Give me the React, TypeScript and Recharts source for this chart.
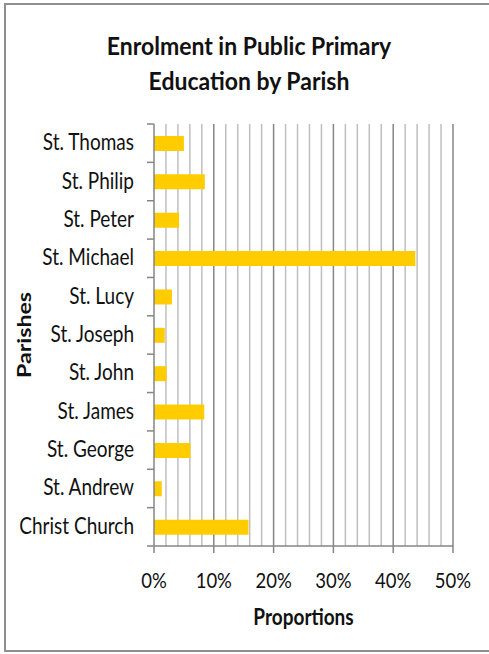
import React from "react";
import { BarChart, Bar, XAxis, YAxis, CartesianGrid } from "recharts";

const parishes = [
  "St. Thomas",
  "St. Philip",
  "St. Peter",
  "St. Michael",
  "St. Lucy",
  "St. Joseph",
  "St. John",
  "St. James",
  "St. George",
  "St. Andrew",
  "Christ Church",
];
const proportions = [5.0, 8.5, 4.2, 43.7, 3.0, 1.8, 2.1, 8.4, 6.1, 1.3, 15.8];
const xTicks = [0, 10, 20, 30, 40, 50];
const minorGrid = [2, 4, 6, 8, 12, 14, 16, 18, 22, 24, 26, 28, 32, 34, 36, 38, 42, 44, 46, 48];
const majorGrid = [10, 20, 30, 40, 50];
const titleLines = ["Enrolment in Public Primary", "Education by Parish"];

const W = 489;
const H = 654;
const PLOT_LEFT = 154;
const PLOT_RIGHT = 453;
const PLOT_TOP = 124;
const PLOT_BOTTOM = 546;
const BAND = (PLOT_BOTTOM - PLOT_TOP) / parishes.length;
const FONT = "Lato, 'Noto Sans', sans-serif";
const STRETCH = 1.18;

const chartData = parishes.map((p, i) => ({ parish: p, value: proportions[i] }));

function YTick({ x, y, payload, index }: any) {
  const last = index === parishes.length - 1;
  return (
    <g>
      <line x1={PLOT_LEFT - 7} x2={PLOT_LEFT} y1={y - BAND / 2} y2={y - BAND / 2} stroke="#868686" strokeWidth={1.5} />
      {last && (
        <line x1={PLOT_LEFT - 7} x2={PLOT_LEFT} y1={y + BAND / 2} y2={y + BAND / 2} stroke="#868686" strokeWidth={1.5} />
      )}
      <text
        transform={`translate(${x},${y + 7}) scale(1,${STRETCH})`}
        textAnchor="end"
        fontFamily={FONT}
        fontSize={19}
        fill="#111"
      >
        {payload.value}
      </text>
    </g>
  );
}

function XTick({ x, payload }: any) {
  return (
    <text
      transform={`translate(${x},588) scale(1,${STRETCH})`}
      textAnchor="middle"
      fontFamily={FONT}
      fontSize={18.5}
      fill="#111"
    >
      {payload.value}%
    </text>
  );
}

export default function App() {
  return (
    <div style={{ position: "absolute", left: 0, top: 0, width: W, height: H, background: "#fff" }}>
      <div
        style={{
          position: "absolute",
          left: 4,
          top: 3,
          width: W,
          height: H - 5,
          border: "2px solid #8f8f8f",
          boxSizing: "border-box",
        }}
      />
      <svg width={W} height={110} style={{ position: "absolute", left: 0, top: 0 }}>
        {titleLines.map((t, i) => (
          <text
            key={t}
            transform={`translate(249,${55 + i * 35}) scale(1,1.1)`}
            textAnchor="middle"
            fontFamily={FONT}
            fontWeight={700}
            fontSize={23}
            fill="#111"
          >
            {t}
          </text>
        ))}
      </svg>
      <div style={{ position: "absolute", left: 0, top: 0 }}>
        <BarChart
          width={W}
          height={H}
          data={chartData}
          layout="vertical"
          margin={{ top: PLOT_TOP, right: W - PLOT_RIGHT, bottom: 0, left: 0 }}
          barSize={15}
        >
          <CartesianGrid horizontal={false} verticalValues={minorGrid} stroke="#bfbfbf" strokeWidth={1.5} />
          <CartesianGrid horizontal={false} verticalValues={majorGrid} stroke="#868686" strokeWidth={1.5} />
          <XAxis
            type="number"
            domain={[0, 50]}
            ticks={xTicks}
            interval={0}
            height={H - PLOT_BOTTOM}
            axisLine={{ stroke: "#868686", strokeWidth: 1.5 }}
            tickLine={{ stroke: "#868686", strokeWidth: 1.5 }}
            tickSize={7}
            tick={<XTick />}
            label={{
              content: () => (
                <text
                  transform={`translate(${(PLOT_LEFT + PLOT_RIGHT) / 2},625) scale(1,${STRETCH})`}
                  textAnchor="middle"
                  fontFamily={FONT}
                  fontWeight={700}
                  fontSize={19}
                  fill="#111"
                >
                  Proportions
                </text>
              ),
            }}
          />
          <YAxis
            type="category"
            dataKey="parish"
            width={PLOT_LEFT}
            interval={0}
            axisLine={{ stroke: "#868686", strokeWidth: 1.5 }}
            tickLine={false}
            tickSize={0}
            tickMargin={20}
            tick={<YTick />}
            label={{
              content: () => (
                <text
                  transform={`translate(31,${(PLOT_TOP + PLOT_BOTTOM) / 2}) rotate(-90) scale(1.22,1)`}
                  textAnchor="middle"
                  fontFamily={FONT}
                  fontWeight={700}
                  fontSize={19}
                  fill="#111"
                >
                  Parishes
                </text>
              ),
            }}
          />
          <Bar dataKey="value" fill="#ffcc00" isAnimationActive={false} />
        </BarChart>
      </div>
    </div>
  );
}
